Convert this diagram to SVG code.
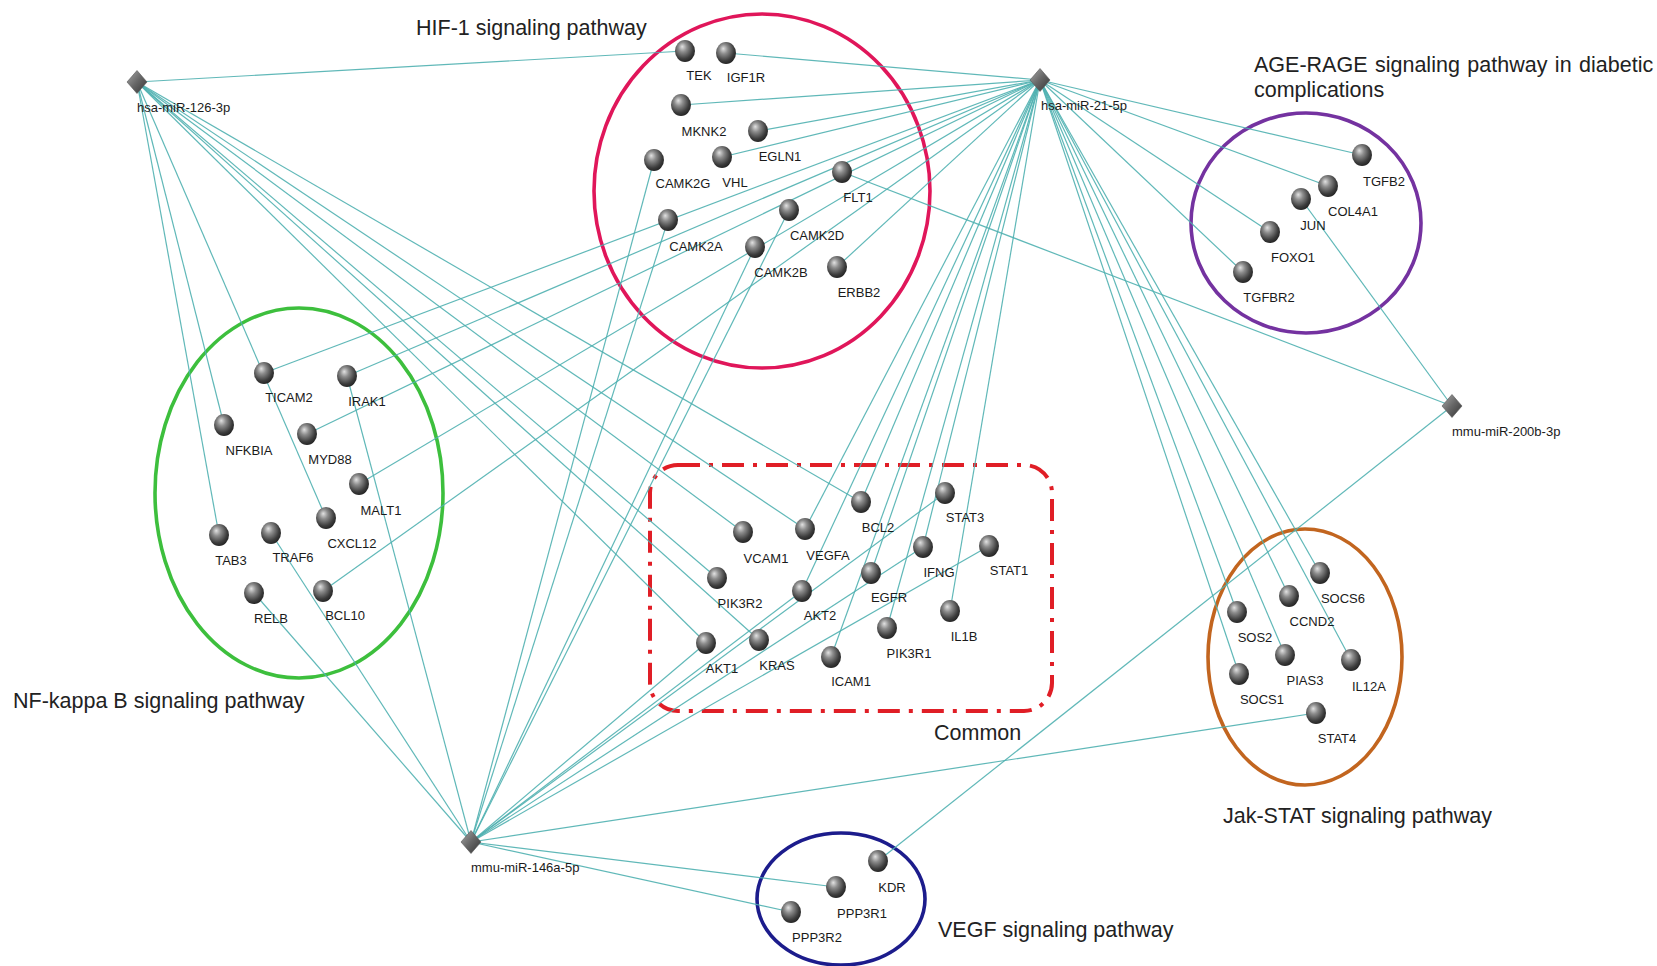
<svg xmlns="http://www.w3.org/2000/svg" width="1657" height="966" viewBox="0 0 1657 966">
<style>
.bg{fill:#ffffff}
.e line{stroke:#4fb0b0;stroke-width:1.2;stroke-opacity:0.9}
.sp{fill:url(#sg)}
.dm{fill:url(#dg);stroke:#555;stroke-width:0.6}
.gl{font-family:"Liberation Sans",Arial,sans-serif;font-size:13px;fill:#1a1a1a;text-anchor:middle}
.ml{font-family:"Liberation Sans",Arial,sans-serif;font-size:13px;fill:#1a1a1a}
.tt{font-family:"Liberation Sans",Arial,sans-serif;font-size:21.5px;fill:#222}
.grp{fill:none;stroke-width:3.6}
</style>
<defs>
<radialGradient id="sg" cx="0.42" cy="0.38" r="0.62" fx="0.36" fy="0.3">
<stop offset="0" stop-color="#e2e2e2"/>
<stop offset="0.35" stop-color="#8c8c8c"/>
<stop offset="0.8" stop-color="#3c3c3c"/>
<stop offset="1" stop-color="#262626"/>
</radialGradient>
<linearGradient id="dg" x1="0" y1="0" x2="1" y2="1">
<stop offset="0" stop-color="#a8a8a8"/>
<stop offset="0.5" stop-color="#666"/>
<stop offset="1" stop-color="#333"/>
</linearGradient>
</defs>
<rect class="bg" x="0" y="0" width="1657" height="966"/>

<g id="groups">
<ellipse id="hif-circle" class="grp" cx="762" cy="191" rx="168" ry="177" stroke="#e0165a"/>
<ellipse id="age-circle" class="grp" cx="1306" cy="223" rx="115" ry="110" stroke="#7432a0"/>
<ellipse id="nf-circle" class="grp" cx="299" cy="493" rx="144" ry="185" stroke="#3dbf3d"/>
<ellipse id="jak-circle" class="grp" cx="1305" cy="657" rx="97" ry="128" stroke="#c2651f"/>
<ellipse id="vegf-circle" class="grp" cx="841" cy="899" rx="84" ry="66" stroke="#1c1c8c"/>
<rect id="common-box" x="650" y="465" width="402" height="246" rx="28" ry="28" fill="none" stroke="#e01e26" stroke-width="4" stroke-dasharray="22 9 4 9"/>
</g>

<g id="edges" class="e">
<!-- hsa-miR-126-3p -->
<line x1="137" y1="82" x2="685" y2="51"/>
<line x1="137" y1="82" x2="224" y2="425"/>
<line x1="137" y1="82" x2="219" y2="535"/>
<line x1="137" y1="82" x2="326" y2="518"/>
<line x1="137" y1="82" x2="706" y2="643"/>
<line x1="137" y1="82" x2="759" y2="640"/>
<line x1="137" y1="82" x2="717" y2="578"/>
<line x1="137" y1="82" x2="743" y2="532"/>
<line x1="137" y1="82" x2="805" y2="529"/>
<line x1="137" y1="82" x2="861" y2="502"/>
<!-- hsa-miR-21-5p -->
<line x1="1040" y1="80" x2="726" y2="53"/>
<line x1="1040" y1="80" x2="681" y2="105"/>
<line x1="1040" y1="80" x2="758" y2="131"/>
<line x1="1040" y1="80" x2="722" y2="157"/>
<line x1="1040" y1="80" x2="837" y2="267"/>
<line x1="1040" y1="80" x2="264" y2="373"/>
<line x1="1040" y1="80" x2="347" y2="376"/>
<line x1="1040" y1="80" x2="307" y2="434"/>
<line x1="1040" y1="80" x2="359" y2="484"/>
<line x1="1040" y1="80" x2="323" y2="591"/>
<line x1="1040" y1="80" x2="805" y2="529"/>
<line x1="1040" y1="80" x2="802" y2="591"/>
<line x1="1040" y1="80" x2="861" y2="502"/>
<line x1="1040" y1="80" x2="831" y2="657"/>
<line x1="1040" y1="80" x2="871" y2="573"/>
<line x1="1040" y1="80" x2="887" y2="628"/>
<line x1="1040" y1="80" x2="923" y2="547"/>
<line x1="1040" y1="80" x2="950" y2="611"/>
<line x1="1040" y1="80" x2="1362" y2="155"/>
<line x1="1040" y1="80" x2="1328" y2="186"/>
<line x1="1040" y1="80" x2="1270" y2="232"/>
<line x1="1040" y1="80" x2="1243" y2="272"/>
<line x1="1040" y1="80" x2="1320" y2="573"/>
<line x1="1040" y1="80" x2="1289" y2="596"/>
<line x1="1040" y1="80" x2="1237" y2="612"/>
<line x1="1040" y1="80" x2="1285" y2="655"/>
<line x1="1040" y1="80" x2="1351" y2="660"/>
<line x1="1040" y1="80" x2="1239" y2="674"/>
<!-- mmu-miR-200b-3p -->
<line x1="1452" y1="406" x2="842" y2="172"/>
<line x1="1452" y1="406" x2="1301" y2="199"/>
<line x1="1452" y1="406" x2="878" y2="861"/>
<!-- mmu-miR-146a-5p -->
<line x1="471" y1="842" x2="347" y2="376"/>
<line x1="471" y1="842" x2="271" y2="533"/>
<line x1="471" y1="842" x2="254" y2="593"/>
<line x1="471" y1="842" x2="654" y2="160"/>
<line x1="471" y1="842" x2="668" y2="220"/>
<line x1="471" y1="842" x2="755" y2="247"/>
<line x1="471" y1="842" x2="789" y2="210"/>
<line x1="471" y1="842" x2="706" y2="643"/>
<line x1="471" y1="842" x2="802" y2="591"/>
<line x1="471" y1="842" x2="945" y2="493"/>
<line x1="471" y1="842" x2="923" y2="547"/>
<line x1="471" y1="842" x2="989" y2="546"/>
<line x1="471" y1="842" x2="1316" y2="713"/>
<line x1="471" y1="842" x2="836" y2="887"/>
<line x1="471" y1="842" x2="791" y2="912"/>
</g>

<g id="titles">
<text class="tt" x="416" y="35">HIF-1 signaling pathway</text>
<text class="tt" x="1254" y="72" word-spacing="1.5">AGE-RAGE signaling pathway in diabetic</text>
<text class="tt" x="1254" y="97">complications</text>
<text class="tt" x="13" y="708">NF-kappa B signaling pathway</text>
<text class="tt" x="934" y="740">Common</text>
<text class="tt" x="1223" y="823">Jak-STAT signaling pathway</text>
<text class="tt" x="938" y="937">VEGF signaling pathway</text>
</g>

<g id="mirnas">
<g id="hsa-miR-126-3p"><polygon class="dm" points="137,70.5 147,82 137,93.5 127,82"/><text class="ml" x="137" y="112">hsa-miR-126-3p</text></g>
<g id="hsa-miR-21-5p"><polygon class="dm" points="1040,68.5 1050,80 1040,91.5 1030,80"/><text class="ml" x="1041" y="110">hsa-miR-21-5p</text></g>
<g id="mmu-miR-200b-3p"><polygon class="dm" points="1452,394.5 1462,406 1452,417.5 1442,406"/><text class="ml" x="1452" y="436">mmu-miR-200b-3p</text></g>
<g id="mmu-miR-146a-5p"><polygon class="dm" points="471,830.5 481,842 471,853.5 461,842"/><text class="ml" x="471" y="872">mmu-miR-146a-5p</text></g>
</g>

<g id="genes">
<g id="TEK"><ellipse class="sp" cx="685" cy="51" rx="10" ry="11"/><text class="gl" x="699" y="80">TEK</text></g>
<g id="IGF1R"><ellipse class="sp" cx="726" cy="53" rx="10" ry="11"/><text class="gl" x="746" y="82">IGF1R</text></g>
<g id="MKNK2"><ellipse class="sp" cx="681" cy="105" rx="10" ry="11"/><text class="gl" x="704" y="136">MKNK2</text></g>
<g id="EGLN1"><ellipse class="sp" cx="758" cy="131" rx="10" ry="11"/><text class="gl" x="780" y="161">EGLN1</text></g>
<g id="CAMK2G"><ellipse class="sp" cx="654" cy="160" rx="10" ry="11"/><text class="gl" x="683" y="188">CAMK2G</text></g>
<g id="VHL"><ellipse class="sp" cx="722" cy="157" rx="10" ry="11"/><text class="gl" x="735" y="187">VHL</text></g>
<g id="FLT1"><ellipse class="sp" cx="842" cy="172" rx="10" ry="11"/><text class="gl" x="858" y="202">FLT1</text></g>
<g id="CAMK2A"><ellipse class="sp" cx="668" cy="220" rx="10" ry="11"/><text class="gl" x="696" y="251">CAMK2A</text></g>
<g id="CAMK2D"><ellipse class="sp" cx="789" cy="210" rx="10" ry="11"/><text class="gl" x="817" y="240">CAMK2D</text></g>
<g id="CAMK2B"><ellipse class="sp" cx="755" cy="247" rx="10" ry="11"/><text class="gl" x="781" y="277">CAMK2B</text></g>
<g id="ERBB2"><ellipse class="sp" cx="837" cy="267" rx="10" ry="11"/><text class="gl" x="859" y="297">ERBB2</text></g>

<g id="TGFB2"><ellipse class="sp" cx="1362" cy="155" rx="10" ry="11"/><text class="gl" x="1384" y="186">TGFB2</text></g>
<g id="COL4A1"><ellipse class="sp" cx="1328" cy="186" rx="10" ry="11"/><text class="gl" x="1353" y="216">COL4A1</text></g>
<g id="JUN"><ellipse class="sp" cx="1301" cy="199" rx="10" ry="11"/><text class="gl" x="1313" y="230">JUN</text></g>
<g id="FOXO1"><ellipse class="sp" cx="1270" cy="232" rx="10" ry="11"/><text class="gl" x="1293" y="262">FOXO1</text></g>
<g id="TGFBR2"><ellipse class="sp" cx="1243" cy="272" rx="10" ry="11"/><text class="gl" x="1269" y="302">TGFBR2</text></g>

<g id="TICAM2"><ellipse class="sp" cx="264" cy="373" rx="10" ry="11"/><text class="gl" x="289" y="402">TICAM2</text></g>
<g id="IRAK1"><ellipse class="sp" cx="347" cy="376" rx="10" ry="11"/><text class="gl" x="367" y="406">IRAK1</text></g>
<g id="NFKBIA"><ellipse class="sp" cx="224" cy="425" rx="10" ry="11"/><text class="gl" x="249" y="455">NFKBIA</text></g>
<g id="MYD88"><ellipse class="sp" cx="307" cy="434" rx="10" ry="11"/><text class="gl" x="330" y="464">MYD88</text></g>
<g id="MALT1"><ellipse class="sp" cx="359" cy="484" rx="10" ry="11"/><text class="gl" x="381" y="515">MALT1</text></g>
<g id="CXCL12"><ellipse class="sp" cx="326" cy="518" rx="10" ry="11"/><text class="gl" x="352" y="548">CXCL12</text></g>
<g id="TAB3"><ellipse class="sp" cx="219" cy="535" rx="10" ry="11"/><text class="gl" x="231" y="565">TAB3</text></g>
<g id="TRAF6"><ellipse class="sp" cx="271" cy="533" rx="10" ry="11"/><text class="gl" x="293" y="562">TRAF6</text></g>
<g id="RELB"><ellipse class="sp" cx="254" cy="593" rx="10" ry="11"/><text class="gl" x="271" y="623">RELB</text></g>
<g id="BCL10"><ellipse class="sp" cx="323" cy="591" rx="10" ry="11"/><text class="gl" x="345" y="620">BCL10</text></g>

<g id="VCAM1"><ellipse class="sp" cx="743" cy="532" rx="10" ry="11"/><text class="gl" x="766" y="563">VCAM1</text></g>
<g id="VEGFA"><ellipse class="sp" cx="805" cy="529" rx="10" ry="11"/><text class="gl" x="828" y="560">VEGFA</text></g>
<g id="BCL2"><ellipse class="sp" cx="861" cy="502" rx="10" ry="11"/><text class="gl" x="878" y="532">BCL2</text></g>
<g id="STAT3"><ellipse class="sp" cx="945" cy="493" rx="10" ry="11"/><text class="gl" x="965" y="522">STAT3</text></g>
<g id="IFNG"><ellipse class="sp" cx="923" cy="547" rx="10" ry="11"/><text class="gl" x="939" y="577">IFNG</text></g>
<g id="STAT1"><ellipse class="sp" cx="989" cy="546" rx="10" ry="11"/><text class="gl" x="1009" y="575">STAT1</text></g>
<g id="PIK3R2"><ellipse class="sp" cx="717" cy="578" rx="10" ry="11"/><text class="gl" x="740" y="608">PIK3R2</text></g>
<g id="AKT2"><ellipse class="sp" cx="802" cy="591" rx="10" ry="11"/><text class="gl" x="820" y="620">AKT2</text></g>
<g id="EGFR"><ellipse class="sp" cx="871" cy="573" rx="10" ry="11"/><text class="gl" x="889" y="602">EGFR</text></g>
<g id="IL1B"><ellipse class="sp" cx="950" cy="611" rx="10" ry="11"/><text class="gl" x="964" y="641">IL1B</text></g>
<g id="PIK3R1"><ellipse class="sp" cx="887" cy="628" rx="10" ry="11"/><text class="gl" x="909" y="658">PIK3R1</text></g>
<g id="AKT1"><ellipse class="sp" cx="706" cy="643" rx="10" ry="11"/><text class="gl" x="722" y="673">AKT1</text></g>
<g id="KRAS"><ellipse class="sp" cx="759" cy="640" rx="10" ry="11"/><text class="gl" x="777" y="670">KRAS</text></g>
<g id="ICAM1"><ellipse class="sp" cx="831" cy="657" rx="10" ry="11"/><text class="gl" x="851" y="686">ICAM1</text></g>

<g id="SOCS6"><ellipse class="sp" cx="1320" cy="573" rx="10" ry="11"/><text class="gl" x="1343" y="603">SOCS6</text></g>
<g id="CCND2"><ellipse class="sp" cx="1289" cy="596" rx="10" ry="11"/><text class="gl" x="1312" y="626">CCND2</text></g>
<g id="SOS2"><ellipse class="sp" cx="1237" cy="612" rx="10" ry="11"/><text class="gl" x="1255" y="642">SOS2</text></g>
<g id="PIAS3"><ellipse class="sp" cx="1285" cy="655" rx="10" ry="11"/><text class="gl" x="1305" y="685">PIAS3</text></g>
<g id="IL12A"><ellipse class="sp" cx="1351" cy="660" rx="10" ry="11"/><text class="gl" x="1369" y="691">IL12A</text></g>
<g id="SOCS1"><ellipse class="sp" cx="1239" cy="674" rx="10" ry="11"/><text class="gl" x="1262" y="704">SOCS1</text></g>
<g id="STAT4"><ellipse class="sp" cx="1316" cy="713" rx="10" ry="11"/><text class="gl" x="1337" y="743">STAT4</text></g>

<g id="KDR"><ellipse class="sp" cx="878" cy="861" rx="10" ry="11"/><text class="gl" x="892" y="892">KDR</text></g>
<g id="PPP3R1"><ellipse class="sp" cx="836" cy="887" rx="10" ry="11"/><text class="gl" x="862" y="918">PPP3R1</text></g>
<g id="PPP3R2"><ellipse class="sp" cx="791" cy="912" rx="10" ry="11"/><text class="gl" x="817" y="942">PPP3R2</text></g>
</g>
</svg>
